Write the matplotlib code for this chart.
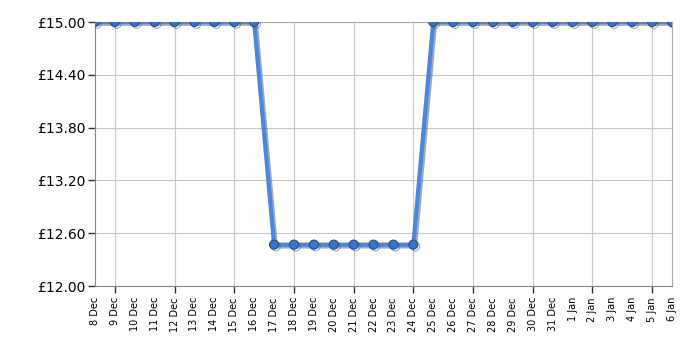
import matplotlib
matplotlib.use("Agg")
import matplotlib.pyplot as plt
import matplotlib.patheffects as pe

dates = ["8 Dec", "9 Dec", "10 Dec", "11 Dec", "12 Dec", "13 Dec", "14 Dec", "15 Dec",
         "16 Dec", "17 Dec", "18 Dec", "19 Dec", "20 Dec", "21 Dec", "22 Dec", "23 Dec",
         "24 Dec", "25 Dec", "26 Dec", "27 Dec", "28 Dec", "29 Dec", "30 Dec", "31 Dec",
         "1 Jan", "2 Jan", "3 Jan", "4 Jan", "5 Jan", "6 Jan"]
prices = [15.00] * 9 + [12.47] * 8 + [15.00] * 13
y_ticks = [12.00, 12.60, 13.20, 13.80, 14.40, 15.00]

x = list(range(len(dates)))

fig = plt.figure(figsize=(7, 3.5), dpi=100)
ax = fig.add_axes([95 / 700, 64 / 350, 577 / 700, 264 / 350])

ax.plot(x, prices, color="#4a88e0", lw=3, marker="o", ms=6.5,
        markerfacecolor="#3a74c8", markeredgecolor="#24508f", markeredgewidth=0.8,
        zorder=3,
        path_effects=[pe.SimpleLineShadow(offset=(1.3, -1.3), shadow_color="#555555", alpha=0.5),
                      pe.Normal()])

ax.set_xlim(0, len(dates) - 1)
ax.set_ylim(12.0, 15.0)

ax.set_yticks(y_ticks)
ax.set_yticklabels(["£%.2f" % v for v in y_ticks], fontsize=10)
ax.tick_params(axis="y", length=5, width=1, color="#333333", pad=2)

# labels every day, tick marks and grid every 3 days
ax.set_xticks(x)
ax.set_xticklabels(dates, rotation=90, fontsize=7)
ax.tick_params(axis="x", length=5, width=1, color="#333333", pad=3)
ax.grid(True, color="#c8c8c8", lw=0.8)
ax.set_axisbelow(True)
for i, t in enumerate(ax.xaxis.get_major_ticks()):
    if i % 3 != 1:
        t.tick1line.set_visible(False)
        t.gridline.set_visible(False)

for s in ax.spines.values():
    s.set_color("#aaaaaa")
    s.set_linewidth(0.8)
ax.spines["left"].set_color("#888888")
ax.spines["bottom"].set_color("#888888")

fig.savefig("out.png", dpi=100)
